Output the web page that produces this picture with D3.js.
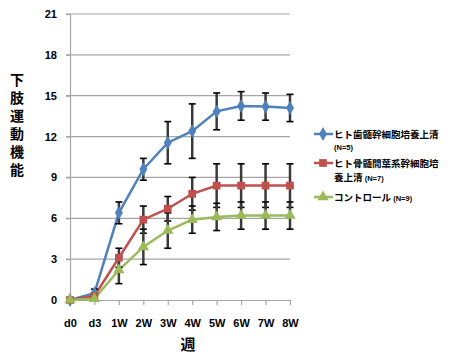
<!DOCTYPE html>
<html><head><meta charset="utf-8">
<script src="https://cdn.jsdelivr.net/npm/d3@7"></script>
<style>body{margin:0;background:#fff}svg{display:block}</style>
</head><body>
<svg id="c" width="454" height="358"></svg>
<script>
const categories = ["d0","d3","1W","2W","3W","4W","5W","6W","7W","8W"];
const yTicks = [0,3,6,9,12,15,18,21];
const seriesNames = ["ヒト歯髄幹細胞培養上清", "ヒト骨髄間葉系幹細胞培養上清", "コントロール"];
const seriesN = ["(N=5)", "(N=7)", "(N=9)"];
const blueValues  = [0, 0.5, 6.4, 9.6, 11.55, 12.4, 13.85, 14.25, 14.2, 14.1];
const blueErrors  = [0, 0.3, 0.8, 0.8, 1.55, 2.0, 1.35, 1.05, 1.0, 1.0];
const redValues   = [0, 0.3, 3.1, 5.9, 6.7, 7.8, 8.4, 8.4, 8.4, 8.4];
const redErrors   = [0, 0.2, 0.7, 1.0, 0.9, 1.2, 1.6, 1.6, 1.6, 1.6];
const greenValues = [0, 0.1, 2.2, 3.9, 5.1, 5.9, 6.1, 6.2, 6.2, 6.2];
const greenErrors = [0, 0.1, 1.0, 1.3, 1.3, 1.0, 1.0, 1.0, 1.0, 1.0];

const colors = ["#4F81BD", "#C0504D", "#9BBB59"];
const symbols = [d3.symbolDiamond, d3.symbolSquare, d3.symbolTriangle];
const series = [
  {values: blueValues, errors: blueErrors},
  {values: redValues, errors: redErrors},
  {values: greenValues, errors: greenErrors}
];

const svg = d3.select("#c");
const x = d3.scalePoint().domain(categories).range([70, 290]).padding(0);
const y = d3.scaleLinear().domain([0, 21]).range([300, 14]);
const numFont = "'Liberation Sans', Arial, sans-serif";
const jpFont = "'Noto Sans CJK JP', sans-serif";

// gridlines
svg.append("g").selectAll("line").data(yTicks.filter(d => d > 0)).join("line")
  .attr("x1", 66).attr("x2", 290)
  .attr("y1", d => y(d)).attr("y2", d => y(d))
  .attr("stroke", "#a6a6a6").attr("stroke-width", 1.2);

// y axis
const yAxis = svg.append("g").attr("transform", "translate(70,0)")
  .call(d3.axisLeft(y).tickValues(yTicks).tickSize(4).tickPadding(9));
yAxis.select(".domain").attr("stroke", "#a6a6a6").attr("stroke-width", 1.2);
yAxis.selectAll(".tick line").attr("stroke", "#a6a6a6").attr("stroke-width", 1.2);
yAxis.selectAll("text").attr("font-family", numFont).attr("font-weight", "bold")
  .attr("font-size", 11).attr("fill", "#000");

// x axis
const xAxis = svg.append("g").attr("transform", "translate(0,300)")
  .call(d3.axisBottom(x).tickSize(5).tickPadding(14).tickSizeOuter(0));
xAxis.select(".domain").attr("stroke", "#a6a6a6").attr("stroke-width", 1.2).attr("d", "M66,0.5H290");
xAxis.selectAll(".tick line").attr("stroke", "#a6a6a6").attr("stroke-width", 1.2);
xAxis.selectAll("text").attr("font-family", numFont).attr("font-weight", "bold")
  .attr("font-size", 11).attr("fill", "#000");

// lines
const line = d3.line().x((d, i) => x(categories[i])).y(d => y(d));
series.forEach((s, k) => {
  svg.append("path").datum(s.values).attr("d", line)
    .attr("fill", "none").attr("stroke", colors[k]).attr("stroke-width", 2.5);
});

// error bars
series.forEach((s, k) => {
  const g = svg.append("g");
  s.values.forEach((v, i) => {
    const e = s.errors[i];
    if (e <= 0) return;
    const cx = x(categories[i]);
    g.append("line").attr("x1", cx).attr("x2", cx).attr("y1", y(v + e)).attr("y2", y(v - e))
      .attr("stroke", "#3a3a3a").attr("stroke-width", 2.5);
    [v + e, v - e].forEach(t => {
      g.append("line").attr("x1", cx - 3.5).attr("x2", cx + 3.5).attr("y1", y(t)).attr("y2", y(t))
        .attr("stroke", "#000").attr("stroke-width", 1.6);
    });
  });
});

// markers
series.forEach((s, k) => {
  svg.append("g").selectAll("path").data(s.values).join("path")
    .attr("transform", (d, i) => `translate(${x(categories[i])},${y(d)})`)
    .attr("d", d3.symbol().type(symbols[k]).size(k === 1 ? 60 : 55))
    .attr("fill", colors[k]);
});

// y title (vertical text)
svg.append("text")
  .attr("x", 17).attr("y", 73)
  .attr("style", "writing-mode: vertical-rl; text-orientation: upright; letter-spacing: 4px")
  .attr("font-family", jpFont).attr("font-weight", "bold")
  .attr("font-size", 14).attr("fill", "#000")
  .text("下肢運動機能");

// x title
svg.append("text").attr("x", 188).attr("y", 350).attr("text-anchor", "middle")
  .attr("font-family", jpFont).attr("font-weight", "bold").attr("font-size", 15)
  .attr("fill", "#000").text("週");

// legend
const legendRows = [
  {y: 134, gap: 12, lines: [[seriesNames[0], ""], ["", seriesN[0]]]},
  {y: 163, gap: 14, lines: [["ヒト骨髄間葉系幹細胞培", ""], ["養上清 ", seriesN[1]]]},
  {y: 197, gap: 14, lines: [[seriesNames[2] + " ", seriesN[2]]]}
];
legendRows.forEach((r, k) => {
  const g = svg.append("g");
  g.append("line").attr("x1", 314).attr("x2", 333).attr("y1", r.y).attr("y2", r.y)
    .attr("stroke", colors[k]).attr("stroke-width", 2.5);
  g.append("path").attr("transform", `translate(323,${r.y})`)
    .attr("d", d3.symbol().type(symbols[k]).size(k === 1 ? 60 : 55)).attr("fill", colors[k]);
  r.lines.forEach((ln, j) => {
    const t = g.append("text").attr("x", 334).attr("y", r.y + 4 + j * r.gap)
      .attr("font-family", ln[0] ? jpFont : numFont).attr("font-weight", "bold")
      .attr("font-size", ln[0] ? 9.5 : 7.5).attr("fill", "#000");
    if (ln[0]) t.append("tspan").text(ln[0]);
    if (ln[1]) t.append("tspan").attr("font-family", numFont).attr("font-size", 7.5).text(ln[1]);
  });
});
</script>
</body></html>
